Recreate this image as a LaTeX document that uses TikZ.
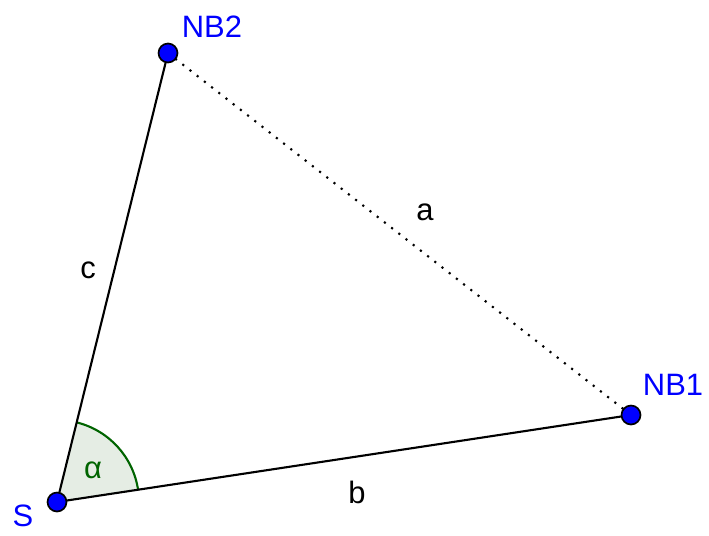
\documentclass[tikz,border=0pt]{standalone}
\usepackage{fontspec}
\setmainfont{Liberation Sans}
\usetikzlibrary{positioning}
\definecolor{PointBlue}{RGB}{0,0,255}
\definecolor{AngleGreen}{RGB}{0,100,0}
\definecolor{AngleFill}{RGB}{229,237,228}
\tikzset{
  point/.style={circle,draw=black,fill=PointBlue,line width=1.2pt,
    minimum size=13.5pt,inner sep=0pt},
  ptlabel/.style={text=PointBlue,font=\fontsize{22}{26}\selectfont,inner sep=0pt},
  sidelabel/.style={font=\fontsize{22}{26}\selectfont,inner sep=0pt},
  side/.style={line width=1.5pt,black},
  dotline/.style={line width=1.5pt,black,dash pattern=on 1.5pt off 5pt}
}
\begin{document}
\begin{tikzpicture}[x=0.025cm,y=0.025cm]
          \useasboundingbox (0,0) rectangle (709,535);
          \coordinate (S) at (57,33);
          \coordinate (NB1) at (631,120);
          \coordinate (NB2) at (168,482);
          % angle at S
          \fill[AngleFill] (S) -- ++(8.6:82) arc[start angle=8.6,end angle=76.1,radius=82] -- cycle;
          \draw[AngleGreen,line width=1.5pt] ([shift={(8.6:82)}]S) arc[start angle=8.6,end angle=76.1,radius=82];
          \draw[side] (S) -- (NB1);
          \draw[side] (S) -- (NB2);
          \draw[dotline] (NB2) -- (NB1);
          \node[point] (pS) at (S) {};
          \node[point] (pNB1) at (NB1) {};
          \node[point] (pNB2) at (NB2) {};
          \node[ptlabel] (lS) at (23,19) {S};
          \node[ptlabel] (lNB1) at (673,150) {NB1};
          \node[ptlabel] (lNB2) at (212,508) {NB2};
          \node[sidelabel] (la) at (425,323) {a};
          \node[sidelabel] (lb) at (357,43) {b};
          \node[sidelabel] (lc) at (88,265) {c};
          \node[sidelabel,text=AngleGreen] (lalpha) at (93,65) {α};
        \end{tikzpicture}
\end{document}
